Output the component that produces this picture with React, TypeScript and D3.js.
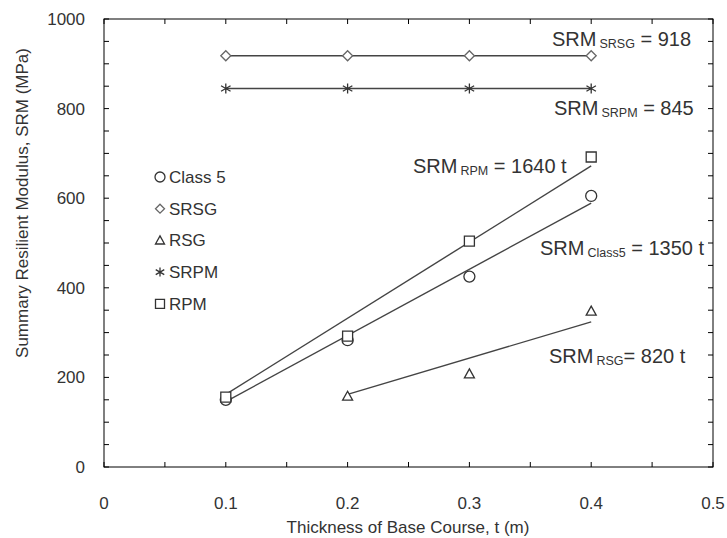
import React from "react";
import * as d3 from "d3";

const thickness = [0.1, 0.2, 0.3, 0.4];
const class5 = [150, 283, 425, 605];
const srsg = [918, 918, 918, 918];
const rsg = [null, 158, 208, 348];
const srpm = [845, 845, 845, 845];
const rpm = [156, 292, 504, 692];

// fitted lines, end points [t, SRM]
const srsgFit = [[0.1, 918], [0.4, 918]];
const srpmFit = [[0.1, 845], [0.4, 845]];
const rpmFit = [[0.1, 162], [0.4, 672]];
const class5Fit = [[0.1, 146], [0.4, 589]];
const rsgFit = [[0.2, 162], [0.4, 324]];

const xTicks = [0, 0.1, 0.2, 0.3, 0.4, 0.5];
const yTicks = [0, 200, 400, 600, 800, 1000];

const legendNames = ["Class 5", "SRSG", "RSG", "SRPM", "RPM"];
const legendShapes = ["circle", "diamond", "triangle", "star", "square"];

const W = 727;
const H = 538;
const m = { left: 104, top: 19, right: 713, bottom: 467 };
const font = "'Liberation Sans', Arial, sans-serif";
const ink = "#333";

const x = d3.scaleLinear().domain([0, 0.5]).range([m.left, m.right]);
const y = d3.scaleLinear().domain([0, 1000]).range([m.bottom, m.top]);

const line = d3
  .line<number[]>()
  .x((d) => x(d[0]))
  .y((d) => y(d[1]));

// marker outline as a path, centred on 0,0
function markerPath(shape: string, s: number) {
  const h = s / 2;
  if (shape === "circle") return d3.arc()({ innerRadius: 0, outerRadius: h + 0.5, startAngle: 0, endAngle: 2 * Math.PI }) as string;
  if (shape === "square") return `M${-h},${-h}H${h}V${h}H${-h}Z`;
  if (shape === "diamond") return `M0,${-h}L${h},0L0,${h}L${-h},0Z`;
  if (shape === "triangle") return `M0,${-h}L${h},${h * 0.8}L${-h},${h * 0.8}Z`;
  // star: vertical bar plus an X
  const a = h * 0.95;
  const b = h * 0.55;
  return `M0,${-h}V${h}M${-a},${-b}L${a},${b}M${-a},${b}L${a},${-b}`;
}

const Marker = ({ shape, cx, cy, s = 10, color = ink }) => (
  <path
    d={markerPath(shape, s)}
    transform={`translate(${cx},${cy})`}
    fill={shape === "star" ? "none" : "white"}
    stroke={color}
    strokeWidth={1.3}
  />
);

const Label = ({ x0, y0, sub, rest }) => (
  <text x={x0} y={y0} fontFamily={font} fontSize={20} fill={ink}>
    SRM
    <tspan dx={3} dy={2} fontSize={12.5}>
      {sub}
    </tspan>
    <tspan dy={-2}>{rest}</tspan>
  </text>
);

const series = [
  { vals: class5, shape: "circle", color: ink },
  { vals: srsg, shape: "diamond", color: "#666" },
  { vals: rsg, shape: "triangle", color: ink },
  { vals: srpm, shape: "star", color: ink },
  { vals: rpm, shape: "square", color: ink },
];

export default function App() {
  const minorX = d3.range(0, 0.5001, 0.05);
  const minorY = d3.range(0, 1001, 50);
  return (
    <svg width={W} height={H} style={{ position: "absolute", left: 0, top: 0 }}>
      <rect width={W} height={H} fill="white" />

      {/* fitted lines */}
      {[srsgFit, srpmFit, rpmFit, class5Fit, rsgFit].map((f, i) => (
        <path key={i} d={line(f as number[][]) as string} fill="none" stroke="#444" strokeWidth={1.4} />
      ))}

      {/* data points */}
      {series.map((sr, i) =>
        sr.vals.map((v, j) =>
          v == null ? null : (
            <Marker key={`${i}-${j}`} shape={sr.shape} cx={x(thickness[j])} cy={y(v)} color={sr.color} />
          )
        )
      )}

      {/* frame and ticks */}
      <rect x={m.left} y={m.top} width={m.right - m.left} height={m.bottom - m.top} fill="none" stroke="#000" strokeWidth={1} />
      {minorX.map((t, i) => (
        <g key={"tx" + i} stroke="#000">
          <line x1={x(t)} x2={x(t)} y1={m.bottom} y2={m.bottom - 5} />
          <line x1={x(t)} x2={x(t)} y1={m.top} y2={m.top + 5} />
        </g>
      ))}
      {minorY.map((t, i) => (
        <g key={"ty" + i} stroke="#000">
          <line x1={m.left} x2={m.left + 5} y1={y(t)} y2={y(t)} />
          <line x1={m.right} x2={m.right - 5} y1={y(t)} y2={y(t)} />
        </g>
      ))}

      {/* tick labels */}
      {xTicks.map((t) => (
        <text key={"xl" + t} x={x(t)} y={509} textAnchor="middle" fontFamily={font} fontSize={17} fill={ink}>
          {t}
        </text>
      ))}
      {yTicks.map((t) => (
        <text key={"yl" + t} x={85} y={y(t) + 6} textAnchor="end" fontFamily={font} fontSize={17} fill={ink}>
          {t}
        </text>
      ))}

      {/* axis titles */}
      <text x={408} y={533} textAnchor="middle" fontFamily={font} fontSize={17} fill={ink}>
        Thickness of Base Course, t (m)
      </text>
      <text
        transform={`translate(28,${(m.top + m.bottom) / 2 - 40}) rotate(-90)`}
        textAnchor="middle"
        fontFamily={font}
        fontSize={17}
        fill={ink}
      >
        Summary Resilient Modulus, SRM (MPa)
      </text>

      {/* legend */}
      {legendNames.map((n, i) => (
        <g key={n}>
          <Marker shape={legendShapes[i]} cx={160} cy={177 + i * 31.7} s={9} color={series[i].color} />
          <text x={169} y={177 + i * 31.7 + 6} fontFamily={font} fontSize={17} fill={ink}>
            {n}
          </text>
        </g>
      ))}

      {/* equations */}
      <Label x0={552} y0={46} sub="SRSG" rest=" = 918" />
      <Label x0={554} y0={115} sub="SRPM" rest=" = 845" />
      <Label x0={413} y0={173} sub="RPM" rest=" = 1640 t" />
      <Label x0={540} y0={255} sub="Class5" rest=" = 1350 t" />
      <Label x0={549} y0={363} sub="RSG" rest="= 820 t" />
    </svg>
  );
}
